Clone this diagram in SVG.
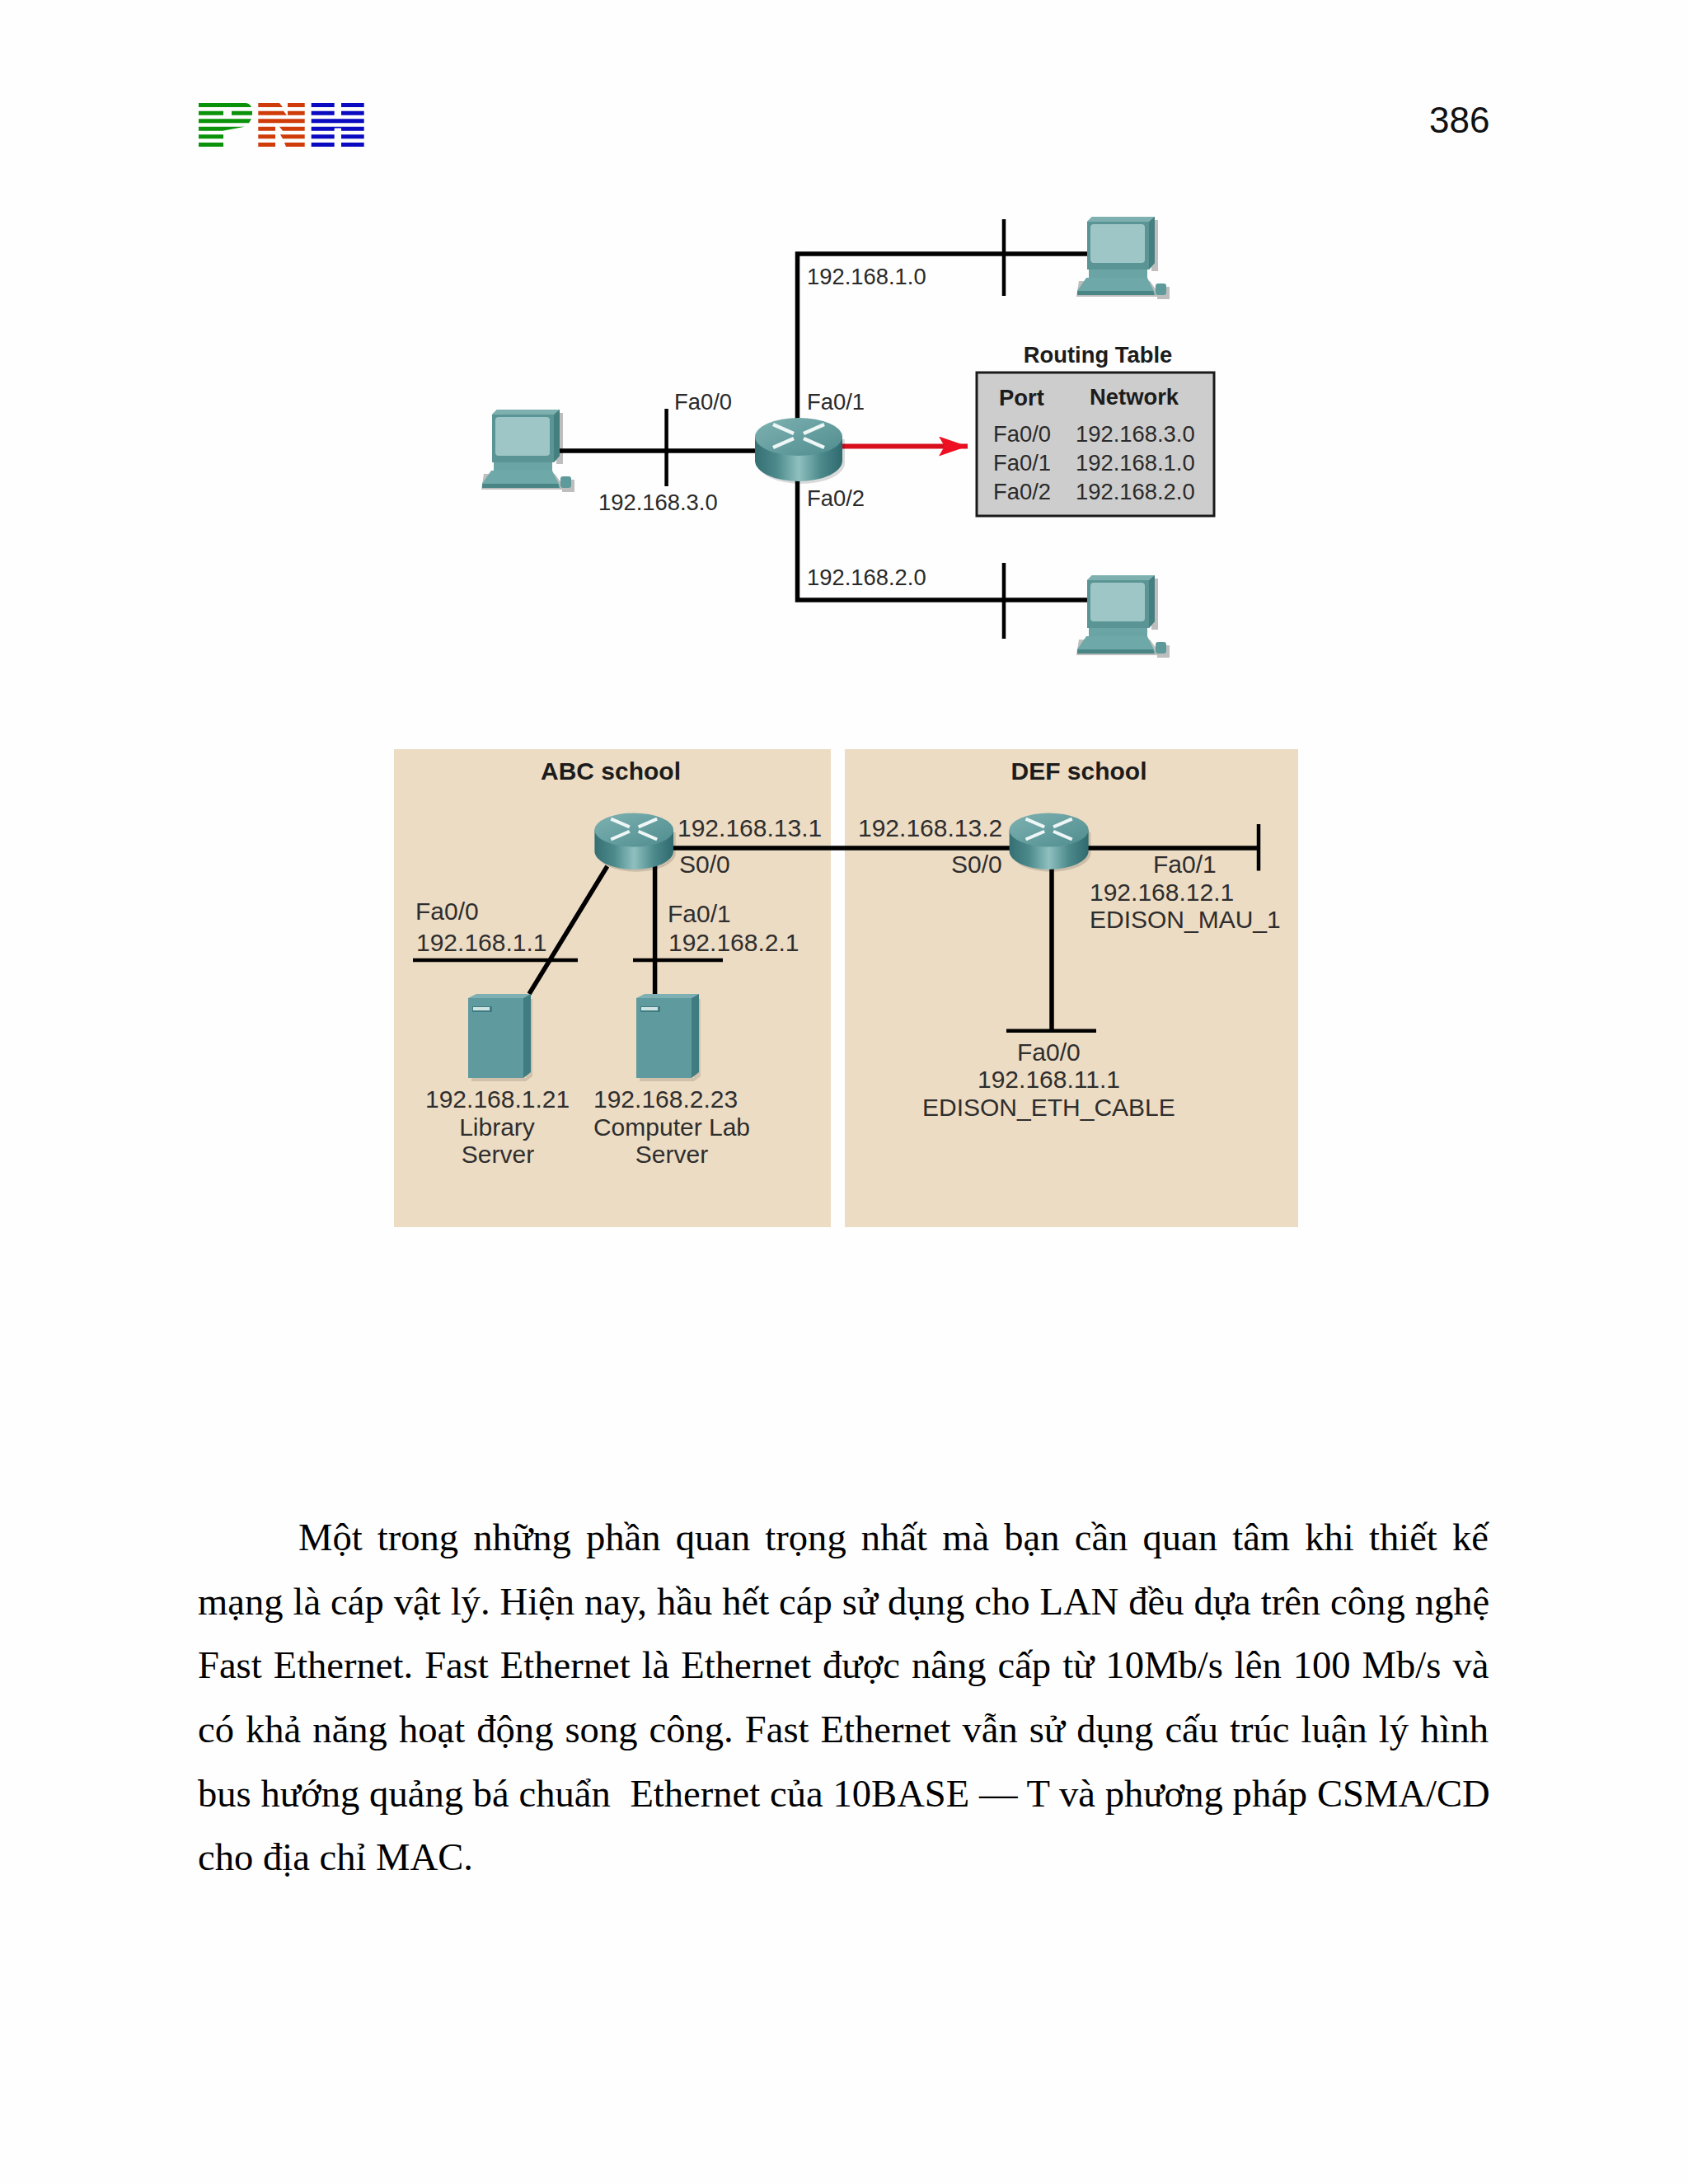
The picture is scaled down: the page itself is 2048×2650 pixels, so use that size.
<svg xmlns="http://www.w3.org/2000/svg" xmlns:xlink="http://www.w3.org/1999/xlink" width="2048" height="2650" viewBox="0 0 2048 2650">
<style>
.l{font-family:"Liberation Sans",Arial,sans-serif;font-size:27.4px;fill:#2a2a2a}
.b{font-family:"Liberation Sans",Arial,sans-serif;font-size:27.4px;font-weight:bold;fill:#1c1c1c}
.m{font-family:"Liberation Sans",Arial,sans-serif;font-size:30px;fill:#2e2e2e}
.h{font-family:"Liberation Sans",Arial,sans-serif;font-size:30px;font-weight:bold;fill:#1c1c1c}
.c{text-anchor:middle}
.t{font-family:"Liberation Serif","Times New Roman",serif;font-size:46.6px;fill:#000;white-space:pre}
.w{stroke:#000;fill:none;stroke-width:5.5}
.n{stroke:#000;fill:none;stroke-width:4.5}
.g{fill:#0a920a}.o{fill:#cf3c0a}.u{fill:#0a0ac0}
.panel{fill:#eddcc4}
</style>
<defs>
<linearGradient id="rb" x1="0" x2="1" y1="0" y2="0">
<stop offset="0" stop-color="#356f73"/><stop offset=".25" stop-color="#4d8a8c"/><stop offset=".5" stop-color="#8fc0bf"/><stop offset=".75" stop-color="#4d8a8c"/><stop offset="1" stop-color="#2f6a6e"/>
</linearGradient>
<linearGradient id="rt" x1="0" x2="1" y1="0" y2="1">
<stop offset="0" stop-color="#7fb2b2"/><stop offset="1" stop-color="#4f8c8e"/>
</linearGradient>
<symbol id="router" overflow="visible">
<path d="M3 26V55A53 25 0 0 0 109 55V26Z" fill="#000" opacity=".14"/>
<path d="M0 23V52A53 25 0 0 0 106 52V23Z" fill="url(#rb)"/>
<ellipse cx="53" cy="23" rx="53" ry="23" fill="url(#rt)"/>
<path d="M22 8L47 19M22 36L47 25M84 8L59 19M59 25L84 36" stroke="#eef6f6" stroke-width="4.500" fill="none"/>
</symbol>
<symbol id="pc" overflow="visible">
<path d="M-10 78H76L90 97H-13Z M85 85H100V100H85Z M78 4H86V66H78Z" fill="#000" opacity=".25"/>
<path d="M0 6L6 0H82V56L75 64H0Z" fill="#5b9494"/>
<path d="M0 6L6 0H82L76 6Z" fill="#7fb0b0"/>
<path d="M75 6L82 0V56L75 64Z" fill="#457f7f"/>
<rect x="4" y="9" width="66" height="47" rx="4" fill="#9fc6c6"/>
<path d="M2 64H73V74H2Z" fill="#6aa4a4"/>
<path d="M-1 74H73L82 92L80 95H-12L-12 90Z" fill="#6fa8a8"/>
<path d="M-12 90H80L82 95H-12Z" fill="#4a8585"/>
<rect x="83" y="81" width="13" height="14" rx="3" fill="#5f9a9a"/>
</symbol>
<symbol id="server" overflow="visible">
<path d="M70 6H78V100L70 106H4V102H70Z" fill="#000" opacity=".12"/>
<path d="M0 5H67V102H0Z" fill="#5f9a9e"/>
<path d="M0 5L10 0H76L67 5Z" fill="#7eb0b3"/>
<path d="M67 5L76 0V95L67 102Z" fill="#3f7c82"/>
<rect x="5" y="15" width="24" height="7" fill="#3f7c82"/>
<rect x="6" y="16" width="20" height="4" fill="#cfe3e3"/>
</symbol>
<marker id="ah" markerUnits="userSpaceOnUse" markerWidth="36" markerHeight="24" refX="35" refY="12" orient="auto">
<path d="M0 0L35 12L0 24L7 12Z" fill="#ee1022"/>
</marker>
</defs>
<rect width="2048" height="2650" fill="#fefefe"/>
<g id="logo">
<path class="g" d="M241 125H297Q303 125 305 130H241ZM241 134.700H271V139.700H241ZM281 134.700H306V139.700H281ZM241 144.300H305L302 149.300H241ZM241 153.700H297L270 158.700H241ZM241 163.300H271V168.300H241ZM241 173H271V178H241Z"/>
<path class="o" d="M313.300 125H339L343 130H313.300ZM349 125H369.700V130H349ZM313.300 134.700H344L348 139.700H313.300ZM349 134.700H369.700V139.700H349ZM313.300 144.300H369.700V149.300H313.300ZM313.300 153.700H334V158.700H313.300ZM339 153.700H369.700V158.700H343ZM313.300 163.300H334V168.300H313.300ZM340 163.300H369.700V168.300H343ZM313.300 173H334V178H313.300ZM345 173H369.700V178H347Z"/>
<path class="u" d="M377.700 125H405.700V130H377.700ZM414 125H441.700V130H414ZM377.700 134.700H405.700V139.700H377.700ZM414 134.700H441.700V139.700H414ZM377.700 144.300H441.700V149.300H377.700ZM377.700 153.700H441.700V158.700H414V155.500H405.700V158.700H377.700ZM377.700 163.300H405.700V168.300H377.700ZM414 163.300H441.700V168.300H414ZM377.700 173H405.700V178H377.700ZM414 173H441.700V178H414Z"/>
</g>
<text id="page-number" x="1734" y="161" style="font-family:'Liberation Sans',Arial,sans-serif;font-size:44px;fill:#111">386</text>

<rect id="panel-abc" class="panel" x="478" y="909" width="530" height="580"/>
<rect id="panel-def" class="panel" x="1025" y="909" width="550" height="580"/>

<g id="connectors">
<path class="w" d="M678 547H920M1319 308H967.500V510M967.500 580V728H1319"/>
<path class="n" d="M808.600 496V590M1218 266V359M1218 683V775"/>
<path d="M1022 541.500H1174" stroke="#d8101e" stroke-width="6" fill="none" marker-end="url(#ah)"/>
<path class="w" d="M815 1029H1226M1320 1029H1526M736.800 1051L642 1206M794.600 1050V1206M1276 1050V1250"/>
<path class="n" d="M501 1165H701M768 1165H877M1527 1000V1056.500M1221 1250.700H1330"/>
</g>

<g id="pc-left"><use href="#pc" x="597" y="497"/></g>
<g id="pc-top"><use href="#pc" x="1319" y="263"/></g>
<g id="pc-bottom"><use href="#pc" x="1319" y="698"/></g>
<g id="router-main"><use href="#router" x="916" y="507"/></g>
<g id="router-abc"><use href="#router" transform="translate(721.400 986.500) scale(.902 .89)"/></g>
<g id="router-def"><use href="#router" transform="translate(1224.600 986.500) scale(.906 .89)"/></g>
<g id="server-library"><use href="#server" x="568" y="1206"/></g>
<g id="server-lab"><use href="#server" x="772" y="1206"/></g>

<g id="routing-table">
<rect x="1185" y="452" width="288" height="174" fill="#cdcdcd" stroke="#1a1a1a" stroke-width="3"/>
<text class="b c" x="1332" y="440">Routing Table</text>
<text class="b" x="1212" y="492">Port</text>
<text class="b" x="1322" y="491">Network</text>
<text class="l" x="1205" y="536">Fa0/0</text><text class="l" x="1305" y="536">192.168.3.0</text>
<text class="l" x="1205" y="571">Fa0/1</text><text class="l" x="1305" y="571">192.168.1.0</text>
<text class="l" x="1205" y="606">Fa0/2</text><text class="l" x="1305" y="606">192.168.2.0</text>
</g>
<g id="labels-top">
<text class="l" x="979" y="345">192.168.1.0</text>
<text class="l" x="818" y="497">Fa0/0</text>
<text class="l" x="979" y="497">Fa0/1</text>
<text class="l" x="979" y="614">Fa0/2</text>
<text class="l" x="726" y="619">192.168.3.0</text>
<text class="l" x="979" y="710">192.168.2.0</text>
</g>
<g id="labels-abc">
<text class="h c" x="741" y="946">ABC school</text>
<text class="m" x="822" y="1015">192.168.13.1</text>
<text class="m" x="824" y="1059">S0/0</text>
<text class="m" x="504" y="1116">Fa0/0</text>
<text class="m" x="505" y="1154">192.168.1.1</text>
<text class="m" x="810" y="1119">Fa0/1</text>
<text class="m" x="811" y="1154">192.168.2.1</text>
<text class="m" x="516" y="1344">192.168.1.21</text>
<text class="m c" x="603" y="1378">Library</text>
<text class="m c" x="604" y="1411">Server</text>
<text class="m" x="720" y="1344">192.168.2.23</text>
<text class="m c" x="815" y="1378">Computer Lab</text>
<text class="m c" x="815" y="1411">Server</text>
</g>
<g id="labels-def">
<text class="h c" x="1309" y="946">DEF school</text>
<text class="m" x="1041" y="1015">192.168.13.2</text>
<text class="m" x="1154" y="1059">S0/0</text>
<text class="m" x="1399" y="1059">Fa0/1</text>
<text class="m" x="1322" y="1093">192.168.12.1</text>
<text class="m" x="1322" y="1126">EDISON_MAU_1</text>
<text class="m" x="1234" y="1287">Fa0/0</text>
<text class="m" x="1186" y="1320">192.168.11.1</text>
<text class="m" x="1119" y="1354">EDISON_ETH_CABLE</text>
</g>
<g id="body-text">
<text class="t" x="362" y="1880.500" word-spacing="6.500">Một trong những phần quan trọng nhất mà bạn cần quan tâm khi thiết kế</text>
<text class="t" x="240" y="1958.500" word-spacing=".33">mạng là cáp vật lý. Hiện nay, hầu hết cáp sử dụng cho LAN đều dựa trên công nghệ</text>
<text class="t" x="240" y="2035.500" word-spacing="2.350">Fast Ethernet. Fast Ethernet là Ethernet được nâng cấp từ 10Mb/s lên 100 Mb/s và</text>
<text class="t" x="240" y="2113.500" word-spacing="2.400">có khả năng hoạt động song công. Fast Ethernet vẫn sử dụng cấu trúc luận lý hình</text>
<text class="t" x="240" y="2191.500" word-spacing=".15">bus hướng quảng bá chuẩn  Ethernet của 10BASE — T và phương pháp CSMA/CD</text>
<text class="t" x="240" y="2268.500">cho địa chỉ MAC.</text>
</g>
</svg>
